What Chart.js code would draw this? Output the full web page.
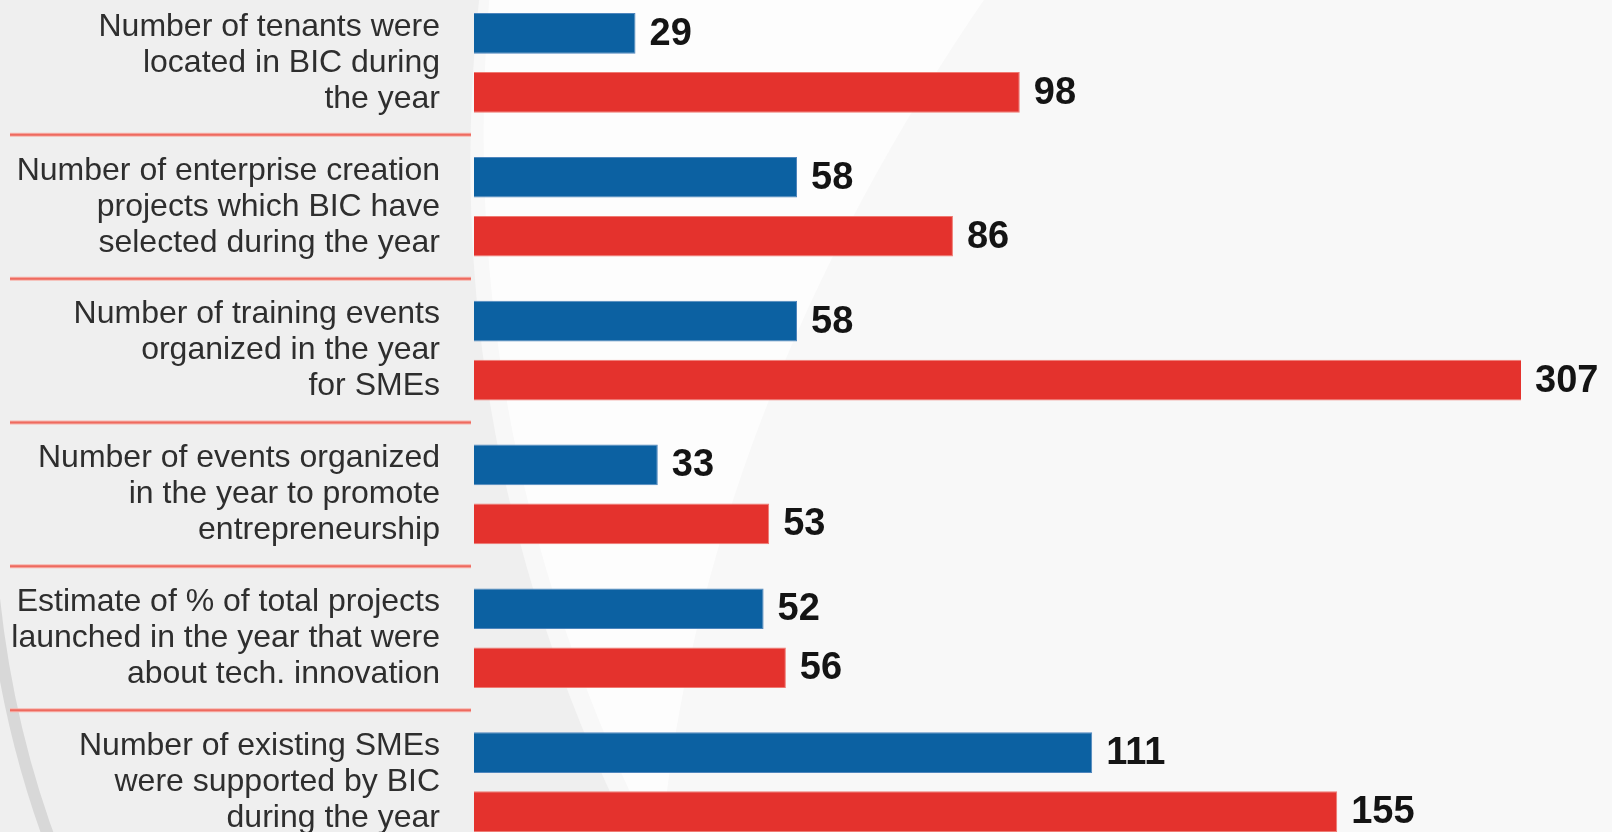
<!DOCTYPE html>
<html>
<head>
<meta charset="utf-8">
<script src="https://cdn.jsdelivr.net/npm/chart.js@4.4.0/dist/chart.umd.min.js"></script>
<style>
  html, body { margin: 0; padding: 0; overflow: hidden; background: #f7f7f7; }
  #wrap { position: absolute; left: 0; top: -9px; width: 1612px; height: 863px; }
</style>
</head>
<body>
<div id="wrap"><canvas id="chart"></canvas></div>
<script>
// Categories (multi-line labels), values for the two series
const categories = [
  ["Number of tenants were", "located in BIC during", "the year"],
  ["Number of enterprise creation", "projects which BIC have", "selected during the year"],
  ["Number of training events", "organized in the year", "for SMEs"],
  ["Number of events organized", "in the year to promote", "entrepreneurship"],
  ["Estimate of % of total projects", "launched in the year that were", "about tech. innovation"],
  ["Number of existing SMEs", "were supported by BIC", "during the year"]
];
const blueValues = [29, 58, 58, 33, 52, 111];
const redValues = [98, 86, 307, 53, 56, 155];
const axisMax = 188;

// soft background shapes behind the chart
const backdrop = {
  id: "backdrop",
  beforeDraw(chart) {
    const ctx = chart.ctx;
    const w = chart.width, h = chart.height;
    ctx.save();
    ctx.fillStyle = "#f8f8f8";
    ctx.fillRect(0, 0, w, h);
    ctx.fillStyle = "#efefef";
    ctx.beginPath();
    ctx.moveTo(0, 0);
    ctx.lineTo(480, 0);
    ctx.quadraticCurveTo(430, 450, 640, h);
    ctx.lineTo(0, h);
    ctx.closePath();
    ctx.fill();
    ctx.fillStyle = "rgba(255,255,255,0.75)";
    ctx.beginPath();
    ctx.moveTo(490, 0);
    ctx.lineTo(990, 0);
    ctx.quadraticCurveTo(700, 420, 660, h);
    ctx.quadraticCurveTo(450, 450, 490, 0);
    ctx.closePath();
    ctx.fill();
    ctx.strokeStyle = "#d8d8d8";
    ctx.lineWidth = 12;
    ctx.beginPath();
    ctx.moveTo(-10, 560);
    ctx.quadraticCurveTo(0, 720, 55, h);
    ctx.stroke();
    ctx.restore();
  }
};

// red separators between the category labels
const separators = {
  id: "separators",
  afterDraw(chart) {
    const ctx = chart.ctx;
    const y = chart.scales.y;
    ctx.save();
    for (let i = 0; i < categories.length - 1; i++) {
      const py = (y.getPixelForValue(i) + y.getPixelForValue(i + 1)) / 2;
      ctx.strokeStyle = "#f7b4ac";
      ctx.lineWidth = 4;
      ctx.beginPath();
      ctx.moveTo(10, py);
      ctx.lineTo(chart.chartArea.left - 3, py);
      ctx.stroke();
      ctx.strokeStyle = "#ee6a5f";
      ctx.lineWidth = 2;
      ctx.stroke();
    }
    ctx.restore();
  }
};

// value labels at the end of each bar
const valueLabels = {
  id: "valueLabels",
  afterDatasetsDraw(chart) {
    const ctx = chart.ctx;
    ctx.save();
    ctx.font = "bold 38px 'Liberation Sans', Arial, sans-serif";
    ctx.fillStyle = "#141414";
    ctx.textAlign = "left";
    ctx.textBaseline = "middle";
    chart.data.datasets.forEach((ds, di) => {
      chart.getDatasetMeta(di).data.forEach((bar, i) => {
        const x = Math.min(bar.x, chart.chartArea.right) + 14;
        ctx.fillText(String(ds.data[i]), x, bar.y + 1);
      });
    });
    ctx.restore();
  }
};

const ctx = document.getElementById("chart").getContext("2d");
new Chart(ctx, {
  type: "bar",
  data: {
    labels: categories,
    datasets: [{
      label: "Series A",
      data: blueValues,
      backgroundColor: "#0c61a2",
      borderColor: "#4f86bd",
      borderWidth: 1,
      categoryPercentage: 0.82,
      barPercentage: 0.69
    }, {
      label: "Series B",
      data: redValues,
      backgroundColor: "#e4322d",
      borderColor: "#ef7a72",
      borderWidth: 1,
      categoryPercentage: 0.82,
      barPercentage: 0.69
    }]
  },
  options: {
    indexAxis: "y",
    responsive: true,
    maintainAspectRatio: false,
    animation: false,
    layout: { padding: { left: 0, top: 0, bottom: 0, right: 91 } },
    plugins: {
      legend: { display: false },
      tooltip: { enabled: false }
    },
    scales: {
      x: { display: false, min: 0, max: axisMax },
      y: {
        grid: { display: false },
        border: { display: false },
        ticks: {
          padding: 26,
          color: "#2e2e2e",
          font: { family: "'Liberation Sans', Arial, sans-serif", size: 32, lineHeight: "36px" }
        },
        afterFit(scale) {
          scale.width = 474;
          scale.paddingTop = 0;
          scale.paddingBottom = 0;
        }
      }
    }
  },
  plugins: [backdrop, separators, valueLabels]
});
</script>
</body>
</html>
